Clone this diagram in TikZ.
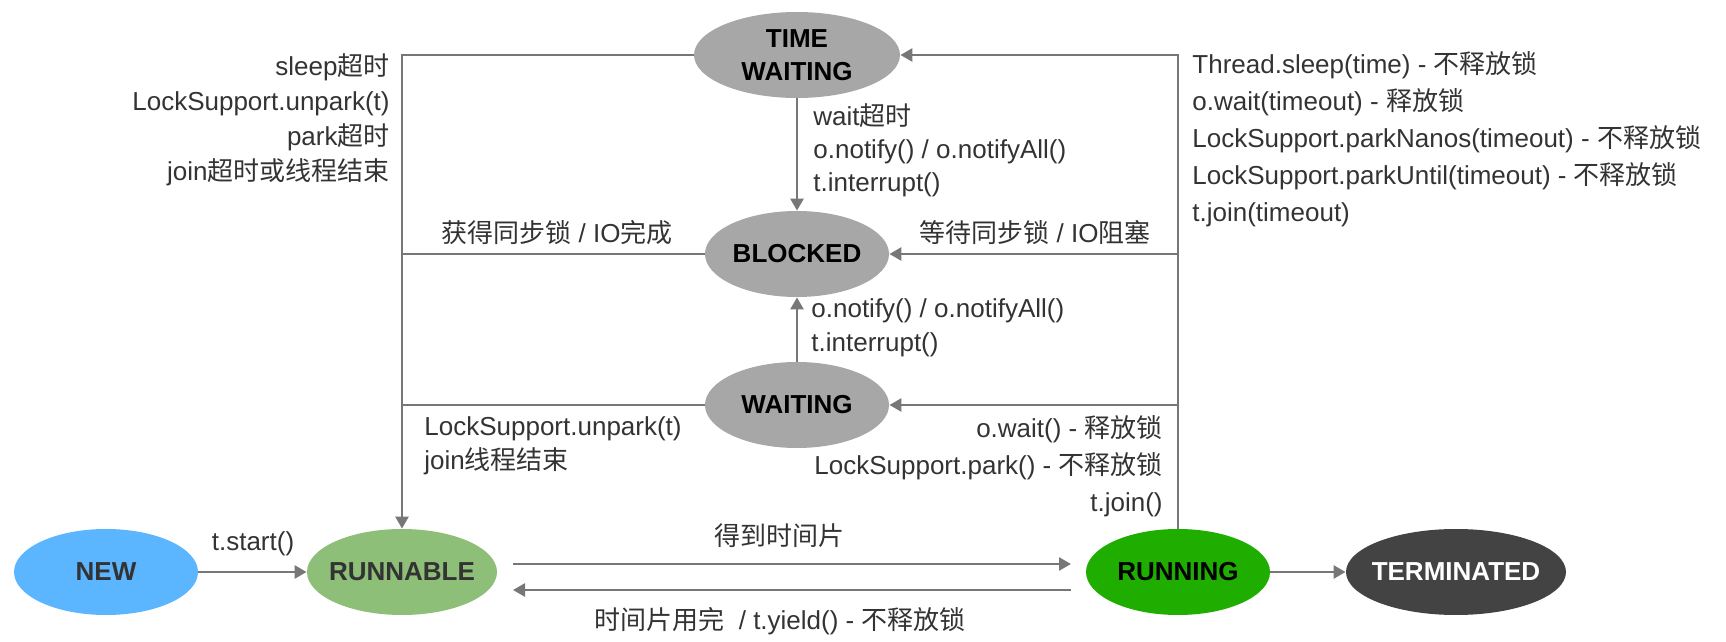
\documentclass[tikz,border=0pt]{standalone}
\usepackage{fontspec}
\setmainfont{Liberation Sans}
\newfontfamily\zhfont{Noto Sans CJK SC}
\newcommand\zh[1]{{\zhfont #1}}
\usetikzlibrary{shapes.geometric,arrows.meta}
\definecolor{linegray}{HTML}{777777}
\definecolor{stategray}{HTML}{A7A7A7}
\definecolor{newblue}{HTML}{5BB6FF}
\definecolor{runnablegreen}{HTML}{8DBF78}
\definecolor{runninggreen}{HTML}{1FAD00}
\definecolor{termgray}{HTML}{434343}
\definecolor{textgray}{HTML}{333333}
\tikzset{
  state/.style={ellipse,inner xsep=-6pt,inner ysep=0pt,minimum width=92pt,minimum height=43pt,
    align=center,font=\fontsize{13}{16.5}\selectfont\bfseries},
  edge/.style={draw=linegray,line width=1.3pt},
  arr/.style={edge,-{Triangle[length=6pt,width=6.5pt]}},
  lbl/.style={inner sep=0pt,text=textgray,font=\fontsize{13}{17.5}\selectfont},
}
\begin{document}
\begin{tikzpicture}[x=0.5pt,y=-0.5pt]
\useasboundingbox (0,0) rectangle (1726,642);
% states
\node [state,fill=stategray,minimum width=103pt] (tw) at (797,55) {TIME\\WAITING};
\node [state,fill=stategray] (blocked) at (797,254) {BLOCKED};
\node [state,fill=stategray] (waiting) at (797,405) {WAITING};
\node [state,fill=newblue,text=textgray] (new) at (106,572) {NEW};
\node [state,fill=runnablegreen,text=textgray,minimum width=95pt] (runnable) at (402,572) {RUNNABLE};
\node [state,fill=runninggreen] (running) at (1178,572) {RUNNING};
\node [state,fill=termgray,text=white,minimum width=110pt] (terminated) at (1456,572) {TERMINATED};
% ends of the two time slice arrows
\coordinate (sliceA) at (513,564);
\coordinate (sliceB) at (1071,564);
\coordinate (yieldA) at (1071,590);
\coordinate (yieldB) at (513,590);
% connectors
\draw[arr] (tw.west) -| (runnable.north);
\draw[edge] (blocked.west) -- (blocked.west -| runnable.north);
\draw[edge] (waiting.west) -- (waiting.west -| runnable.north);
\draw[arr] (running.north) |- (tw.east);
\draw[arr] (running.north |- blocked.east) -- (blocked.east);
\draw[arr] (running.north |- waiting.east) -- (waiting.east);
\draw[arr] (tw.south) -- (blocked.north);
\draw[arr] (waiting.north) -- (blocked.south);
\draw[arr] (new.east) -- (runnable.west);
\draw[arr] (sliceA) -- (sliceB);
\draw[arr] (yieldA) -- (yieldB);
\draw[arr] (running.east) -- (terminated.west);
% labels
\node [lbl,anchor=east,align=right] (timeout) at (390,120) {sleep\zh{超时}\\LockSupport.unpark(t)\\park\zh{超时}\\join\zh{超时或线程结束}};
\node [lbl,anchor=west,align=left,font=\fontsize{13}{16.5}\selectfont] (twblk) at (813,150) {wait\zh{超时}\\o.notify() / o.notifyAll()\\t.interrupt()};
\node [lbl,anchor=west,align=left,font=\fontsize{13}{18.5}\selectfont] (timed) at (1192,139) {Thread.sleep(time) - \zh{不释放锁}\\o.wait(timeout) - \zh{释放锁}\\LockSupport.parkNanos(timeout) - \zh{不释放锁}\\LockSupport.parkUntil(timeout) - \zh{不释放锁}\\t.join(timeout)};
\node [lbl] (getlock) at (557,233) {\zh{获得同步锁} / IO\zh{完成}};
\node [lbl] (waitlock) at (1035,233) {\zh{等待同步锁} / IO\zh{阻塞}};
\node [lbl,anchor=west,align=left,font=\fontsize{13}{17}\selectfont] (wblk) at (811,328) {o.notify() / o.notifyAll()\\t.interrupt()};
\node [lbl,anchor=west,align=left,font=\fontsize{13}{17}\selectfont] (unpark) at (424,446) {LockSupport.unpark(t)\\join\zh{线程结束}};
\node [lbl,anchor=east,align=right,font=\fontsize{13}{18.5}\selectfont] (towait) at (1163,466) {o.wait() - \zh{释放锁}\\LockSupport.park() - \zh{不释放锁}\\t.join()};
\node [lbl] (start) at (253,544) {t.start()};
\node [lbl] (slice) at (779,536) {\zh{得到时间片}};
\node [lbl] (yield) at (780,621) {\zh{时间片用完}\ \ / t.yield() - \zh{不释放锁}};
\end{tikzpicture}
\end{document}
